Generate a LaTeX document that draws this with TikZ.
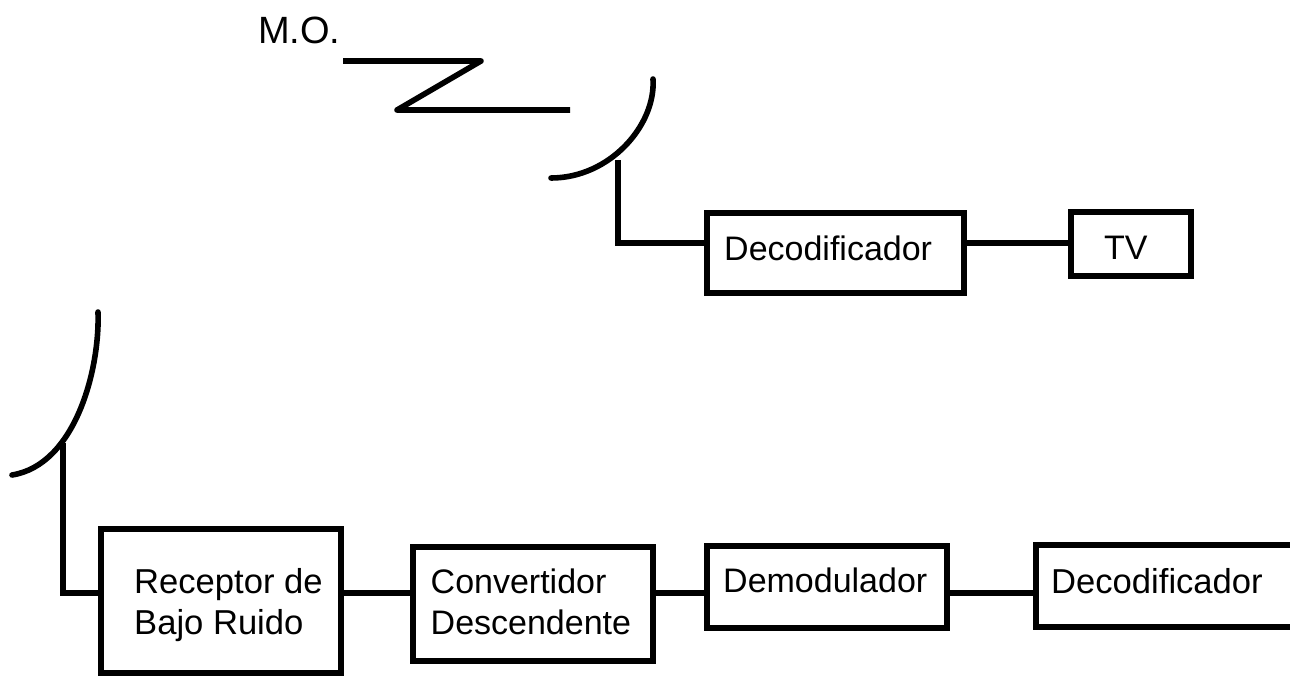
\documentclass[tikz,border=0pt]{standalone}
\usepackage{fontspec}
\setmainfont{Liberation Sans}
\tikzset{
 wire/.style={line width=5.2pt,black,line join=miter},
 zig/.style={line width=5.6pt,black,line join=round},
 dish/.style={line width=5.6pt,black,line cap=round},
 block/.style={draw=black,line width=6pt,fill=white,inner sep=0pt,outer sep=0pt,anchor=north west},
 lbl/.style={font=\fontsize{34}{41}\selectfont,align=left,inner sep=0pt,anchor=base west},
 lblb/.style={lbl,font=\fontsize{34.6}{41}\selectfont},
}
\begin{document}
\begin{tikzpicture}[x=1pt,y=-1pt]
\useasboundingbox[fill=white] (0,0) rectangle (1290,677);
% coordinates
\coordinate (z1) at (343,61);
\coordinate (z2) at (481,61);
\coordinate (z3) at (397,110);
\coordinate (z4) at (570,110);
\coordinate (a1t) at (653,79);
\coordinate (a1b) at (551,178);
\coordinate (a1f) at (618,160);
\coordinate (a1c) at (618,243);
\coordinate (a2t) at (98,312);
\coordinate (a2b) at (12,475);
\coordinate (a2f) at (63,443);
\coordinate (a2c) at (63,593);
% blocks
\node[block,minimum width=257pt,minimum height=80pt] (dec1) at (707,213) {};
\node[block,minimum width=120pt,minimum height=64pt] (tv) at (1071,212) {};
\node[block,minimum width=240pt,minimum height=144pt] (rx) at (101,529) {};
\node[block,minimum width=240pt,minimum height=114pt] (conv) at (413,547) {};
\node[block,minimum width=240pt,minimum height=82pt] (dem) at (707,546) {};
\node[block,minimum width=270pt,minimum height=82pt] (dec2) at (1036,545) {};
% labels
\node[lbl,font=\fontsize{38}{44}\selectfont] (mo) at (258,44) {M.O.};
\node[lbl] (t1) at (724,260) {Decodificador};
\node[lbl] (t2) at (1104,259) {TV};
\node[lblb] (t3) at (134,634) {Receptor de\\Bajo Ruido};
\node[lbl] (t4) at (430.5,634) {Convertidor\\Descendente};
\node[lbl] (t5) at (723,592) {Demodulador};
\node[lblb] (t6) at (1051,593) {Decodificador};
% zigzag
\draw[zig] (z1) -- (z2) -- (z3) -- (z4);
% dishes
\draw[dish] (a1t) .. controls (656,125) and (610,178) .. (a1b);
\draw[dish] (a2t) .. controls (100,370) and (75,465) .. (a2b);
% connectors
\draw[wire] (a1f) -- (a1c) -- (dec1.west |- a1c);
\draw[wire] (a2f) -- (a2c) -- (rx.west |- a2c);
\draw[wire] (dec1.east |- 0,243) -- (tv.west |- 0,243);
\draw[wire] (rx.east |- 0,593) -- (conv.west |- 0,593);
\draw[wire] (conv.east |- 0,593) -- (dem.west |- 0,593);
\draw[wire] (dem.east |- 0,593) -- (dec2.west |- 0,593);
\end{tikzpicture}
\end{document}
